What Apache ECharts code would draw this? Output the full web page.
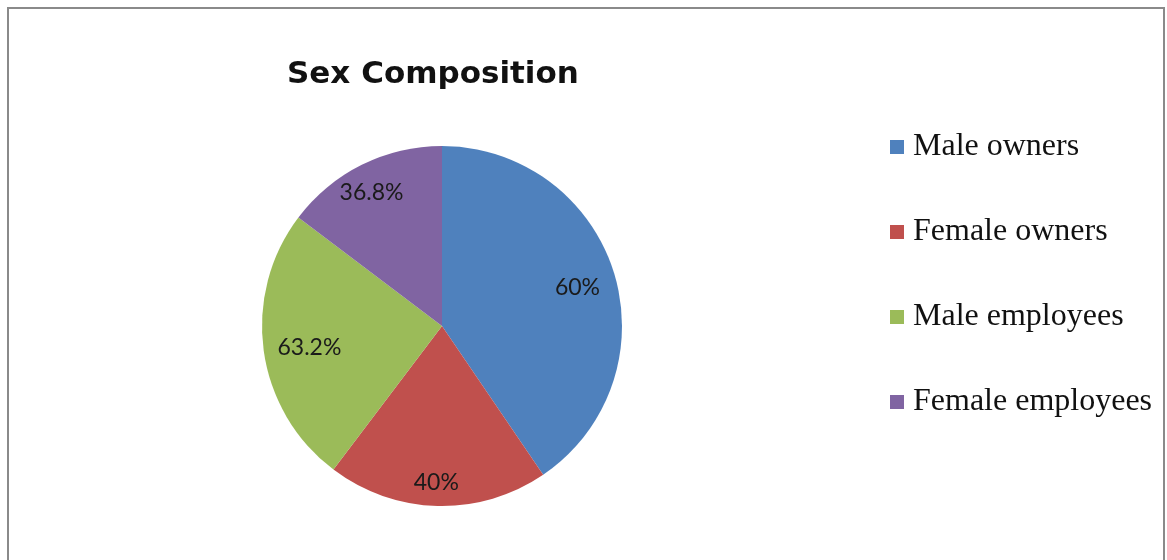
<!DOCTYPE html>
<html>
<head>
<meta charset="utf-8">
<script src="https://cdn.jsdelivr.net/npm/echarts@6/dist/echarts.min.js"></script>
<style>
  html, body { margin: 0; padding: 0; background: #fff; }
  #chart { width: 1167px; height: 560px; }
</style>
</head>
<body>
<div id="chart"></div>
<script>
// Data
const categories = ['Male owners', 'Female owners', 'Male employees', 'Female employees'];
const sliceShares = [40.5, 19.8, 25.0, 14.7];           // slice sizes as drawn (angular share)
const sliceLabels = ['60%', '40%', '63.2%', '36.8%'];    // labels printed on slices
const chartTitle = 'Sex Composition';

// Styling (kept separate from data)
const colors = ['#4F81BD', '#C0504D', '#9BBB59', '#8064A2'];
const labelNudges = [[-5, 5], [-2, 10], [13, 1], [-5, -2]];

const pieData = categories.map((c, i) => ({ name: c, value: sliceShares[i] }));

const chart = echarts.init(document.getElementById('chart'), null, { renderer: 'canvas' });
chart.setOption({
  animation: false,
  backgroundColor: '#ffffff',
  color: colors,
  title: {
    text: chartTitle,
    left: 282,
    top: 54,
    textStyle: { fontFamily: 'DejaVu Sans', fontWeight: 'bold', fontSize: 31, color: '#111' }
  },
  legend: {
    orient: 'vertical',
    left: 885,
    top: 126,
    itemWidth: 14,
    itemHeight: 14,
    itemGap: 53,
    icon: 'rect',
    data: categories,
    textStyle: { fontFamily: 'Liberation Serif', fontSize: 32, lineHeight: 30, color: '#111', padding: [0, 0, 0, 4] }
  },
  graphic: [{
    type: 'rect',
    shape: { x: 8, y: 8, width: 1156, height: 620 },
    style: { fill: 'none', stroke: '#8a8a8a', lineWidth: 2 },
    silent: true
  }],
  series: [
    {
      type: 'pie',
      center: [442, 326],
      radius: [0, 180],
      startAngle: 90,
      clockwise: true,
      data: pieData,
      label: { show: false },
      labelLine: { show: false },
      itemStyle: { borderWidth: 0 },
      silent: true
    },
    {
      type: 'pie',
      center: [442, 326],
      radius: [108, 180],
      startAngle: 90,
      clockwise: true,
      data: pieData,
      itemStyle: { color: 'rgba(0,0,0,0)', borderWidth: 0 },
      label: {
        show: true,
        position: 'inside',
        formatter: p => sliceLabels[p.dataIndex],
        fontFamily: 'Lato',
        fontSize: 23,
        color: '#1a1a1a'
      },
      labelLayout: p => ({ dx: labelNudges[p.dataIndex][0], dy: labelNudges[p.dataIndex][1] }),
      labelLine: { show: false },
      silent: true
    }
  ]
});
</script>
</body>
</html>
